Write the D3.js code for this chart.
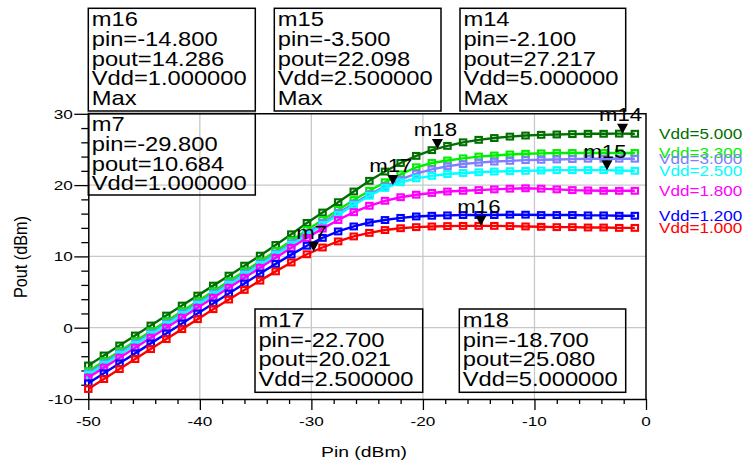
<!DOCTYPE html>
<html>
<head>
<meta charset="utf-8">
<script src="https://cdn.jsdelivr.net/npm/d3@7"></script>
<style>
  html, body { margin: 0; padding: 0; background: #fff; }
  svg { display: block; font-family: "Liberation Sans", Arial, sans-serif; }
</style>
</head>
<body>
<div id="chart"></div>
<script>
// swept input power (dBm), one square marker per point
const pinSweep = [-50, -48.6, -47.2, -45.8, -44.4, -43.0, -41.6, -40.2, -38.8, -37.4, -36.0, -34.6,
  -33.2, -31.8, -30.4, -29.0, -27.6, -26.2, -24.8, -23.4, -22.0, -20.6, -19.2, -17.8,
  -16.4, -15.0, -13.6, -12.2, -10.8, -9.4, -8.0, -6.6, -5.2, -3.8, -2.4, -1.0];

// Pout (dBm) for each supply voltage
const pout5v0 = [-5.3, -3.9, -2.5, -1.1, 0.3, 1.7, 3.1, 4.5, 5.9, 7.3, 8.7, 10.1,
  11.6, 13.1, 14.7, 16.15, 17.6, 19.1, 20.6, 21.9, 23.1, 24.1, 24.9, 25.5,
  26.0, 26.35, 26.6, 26.8, 26.95, 27.05, 27.1, 27.15, 27.2, 27.2, 27.22, 27.2];
const pout3v3 = [-6.1, -4.7, -3.3, -1.9, -0.5, 0.9, 2.3, 3.7, 5.1, 6.5, 7.9, 9.3,
  10.75, 12.2, 13.7, 15.1, 16.5, 17.9, 19.2, 20.4, 21.5, 22.5, 23.1, 23.45,
  23.75, 24.0, 24.15, 24.3, 24.4, 24.45, 24.5, 24.5, 24.5, 24.5, 24.5, 24.5];
const pout3v0 = [-6.4, -5.0, -3.6, -2.2, -0.8, 0.6, 2.0, 3.4, 4.8, 6.2, 7.6, 9.0,
  10.4, 11.85, 13.3, 14.7, 16.1, 17.4, 18.7, 19.8, 20.8, 21.6, 22.2, 22.65,
  22.95, 23.15, 23.3, 23.4, 23.5, 23.55, 23.6, 23.65, 23.7, 23.7, 23.7, 23.7];
const pout2v5 = [-6.6, -5.2, -3.8, -2.4, -1.0, 0.4, 1.8, 3.2, 4.6, 6.0, 7.4, 8.8,
  10.2, 11.6, 13.0, 14.4, 15.8, 17.2, 18.5, 19.6, 20.4, 20.95, 21.3, 21.55,
  21.7, 21.8, 21.9, 21.95, 22.0, 22.05, 22.1, 22.1, 22.1, 22.1, 22.05, 22.0];
const pout1v8 = [-7.0, -5.6, -4.2, -2.8, -1.4, 0.0, 1.4, 2.8, 4.2, 5.6, 7.0, 8.4,
  9.8, 11.2, 12.6, 13.9, 15.1, 16.2, 17.1, 17.8, 18.3, 18.65, 18.9, 19.1,
  19.2, 19.3, 19.4, 19.5, 19.55, 19.5, 19.4, 19.3, 19.25, 19.2, 19.2, 19.2];
const pout1v2 = [-7.8, -6.4, -5.0, -3.6, -2.2, -0.8, 0.6, 2.0, 3.4, 4.8, 6.2, 7.6,
  8.95, 10.25, 11.5, 12.6, 13.5, 14.2, 14.75, 15.1, 15.4, 15.6, 15.7, 15.75,
  15.8, 15.8, 15.8, 15.85, 15.85, 15.8, 15.8, 15.8, 15.75, 15.75, 15.7, 15.7];
const pout1v0 = [-8.6, -7.2, -5.8, -4.4, -3.0, -1.6, -0.2, 1.2, 2.6, 3.95, 5.3, 6.6,
  7.9, 9.15, 10.3, 11.25, 12.1, 12.8, 13.3, 13.7, 13.95, 14.1, 14.2, 14.25,
  14.28, 14.286, 14.28, 14.25, 14.2, 14.15, 14.1, 14.1, 14.05, 14.05, 14.0, 14.0];

const vddLevels = [5.0, 3.3, 3.0, 2.5, 1.8, 1.2, 1.0];
const vddSeries = [pout5v0, pout3v3, pout3v0, pout2v5, pout1v8, pout1v2, pout1v0];
const vddColors = ['#006f00', '#00ee00', '#7f7fff', '#00ffff', '#ff00ff', '#0000ff', '#ff0000'];

// markers
const markerNames = ['m16', 'm15', 'm14', 'm7', 'm17', 'm18'];
const markerPin = [-14.8, -3.5, -2.1, -29.8, -22.7, -18.7];
const markerPout = [14.286, 22.098, 27.217, 10.684, 20.021, 25.080];
const markerVdd = [1.0, 2.5, 5.0, 1.0, 2.5, 5.0];
const markerMax = [true, true, true, false, false, false];

const xTicks = [-50, -40, -30, -20, -10, 0];
const yTicks = [-10, 0, 10, 20, 30];

const W = 747, H = 465;
const FONT = '"Liberation Sans", Arial, sans-serif';

// readout box frames [x0, y0, x1, y1], same order as markerNames
const boxFrames = [
  [88.3, 8.3, 255.3, 111], [274.3, 8.3, 441, 111], [460, 8.3, 625.7, 111],
  [88.3, 113.5, 255.3, 195], [255, 309, 422.7, 392.3], [459.3, 309, 625.7, 392.3]
];

const svg = d3.select('#chart').append('svg')
  .attr('width', W).attr('height', H)
  .attr('viewBox', `0 0 ${W} ${H}`);

const x = d3.scaleLinear().domain([-50, 0]).range([88.3, 646]);
const y = d3.scaleLinear().domain([-10, 30]).range([399, 113.8]);

// stretched text helper (the source renders wide glyphs)
function stext(sel, px, py, str, size, sx, anchor, color) {
  return sel.append('text')
    .attr('transform', `translate(${px},${py}) scale(${sx},1)`)
    .attr('text-anchor', anchor || 'start')
    .attr('font-size', size + 'px')
    .attr('font-family', FONT)
    .attr('fill', color || '#000')
    .text(str);
}

// grid
const grid = svg.append('g');
grid.selectAll('.gx').data(xTicks.filter(t => t > -50 && t < 0))
  .join('line')
  .attr('x1', d => x(d)).attr('x2', d => x(d))
  .attr('y1', y(30)).attr('y2', y(-10))
  .attr('stroke', '#c8c8c8').attr('stroke-width', 1.3);
grid.selectAll('.gy').data(yTicks.filter(t => t > -10 && t < 30))
  .join('line')
  .attr('x1', x(-50)).attr('x2', x(0))
  .attr('y1', d => y(d)).attr('y2', d => y(d))
  .attr('stroke', '#c8c8c8').attr('stroke-width', 1.3);

// axes
const xAxis = d3.axisBottom(x).tickValues(d3.range(-50, 0.1, 2)).tickFormat('')
  .tickSize(5).tickSizeOuter(0);
const gx = svg.append('g').attr('transform', `translate(0,${y(-10)})`).call(xAxis);
gx.selectAll('.tick line').attr('y2', d => (d % 10 === 0 ? 11 : 5));
const yAxis = d3.axisLeft(y).tickValues(d3.range(-10, 30.1, 2)).tickFormat('')
  .tickSize(7).tickSizeOuter(0);
const gy = svg.append('g').attr('transform', `translate(${x(-50)},0)`).call(yAxis);
gy.selectAll('.tick line').attr('x2', d => (d % 10 === 0 ? -14 : -7));
[gx, gy].forEach(g => {
  g.selectAll('.domain').attr('stroke', '#000').attr('stroke-width', 1.5);
  g.selectAll('.tick line').attr('stroke', '#000').attr('stroke-width', 1.3);
});

// plot frame (top and right)
svg.append('path')
  .attr('d', `M${x(-50)},${y(30)}H${x(0)}V${y(-10)}`)
  .attr('fill', 'none').attr('stroke', '#000').attr('stroke-width', 1.5);

// tick labels
xTicks.forEach(t => stext(svg, x(t), 425.7, String(t), 13.5, 1.27, 'middle'));
yTicks.forEach(t => stext(svg, 72.7, y(t) + 4.8, String(t), 13.5, 1.27, 'end'));

// axis titles
stext(svg, 364, 457, 'Pin (dBm)', 15, 1.29, 'middle');
svg.append('text')
  .attr('transform', `translate(26.5,257) rotate(-90) scale(1.08,1.25)`)
  .attr('text-anchor', 'middle')
  .attr('font-size', '15px')
  .attr('font-family', FONT)
  .text('Pout (dBm)');

// traces
const line = d3.line().x((d, i) => x(pinSweep[i])).y(d => y(d));
const traces = svg.append('g');
vddSeries.forEach((vals, si) => {
  const g = traces.append('g');
  g.append('path').datum(vals)
    .attr('d', line)
    .attr('fill', 'none')
    .attr('stroke', vddColors[si])
    .attr('stroke-width', 2.4);
  g.selectAll('rect').data(vals)
    .join('rect')
    .attr('x', (d, i) => x(pinSweep[i]) - 3.2)
    .attr('y', d => y(d) - 2.9)
    .attr('width', 6.4).attr('height', 5.8)
    .attr('fill', 'none')
    .attr('stroke', vddColors[si])
    .attr('stroke-width', 2.1);
  // trace label at right end
  stext(svg, 659, y(vals[vals.length - 1]) + 4.8,
    'Vdd=' + vddLevels[si].toFixed(3), 15, 1.14, 'start', vddColors[si]);
});

// marker triangles and names
markerNames.forEach((name, i) => {
  const mx = x(markerPin[i]), my = y(markerPout[i]);
  svg.append('path')
    .attr('d', `M${mx},${my}L${mx - 5.5},${my - 10}L${mx + 5.5},${my - 10}Z`)
    .attr('fill', '#000');
  stext(svg, mx - 2, my - 12.5, name, 18.5, 1.2, 'middle');
});

// readout boxes
markerNames.forEach((name, i) => {
  const [x0, y0, x1, y1] = boxFrames[i];
  svg.append('rect')
    .attr('x', x0).attr('y', y0)
    .attr('width', x1 - x0).attr('height', y1 - y0)
    .attr('fill', 'none').attr('stroke', '#000').attr('stroke-width', 1.5);
  const lines = [
    name,
    'pin=' + markerPin[i].toFixed(3),
    'pout=' + markerPout[i].toFixed(3),
    'Vdd=' + markerVdd[i].toFixed(6)
  ];
  if (markerMax[i]) lines.push('Max');
  lines.forEach((s, li) => stext(svg, x0 + 3.4, y0 + 17.8 + li * 19.7, s, 21, 1.13, 'start'));
});
</script>
</body>
</html>
